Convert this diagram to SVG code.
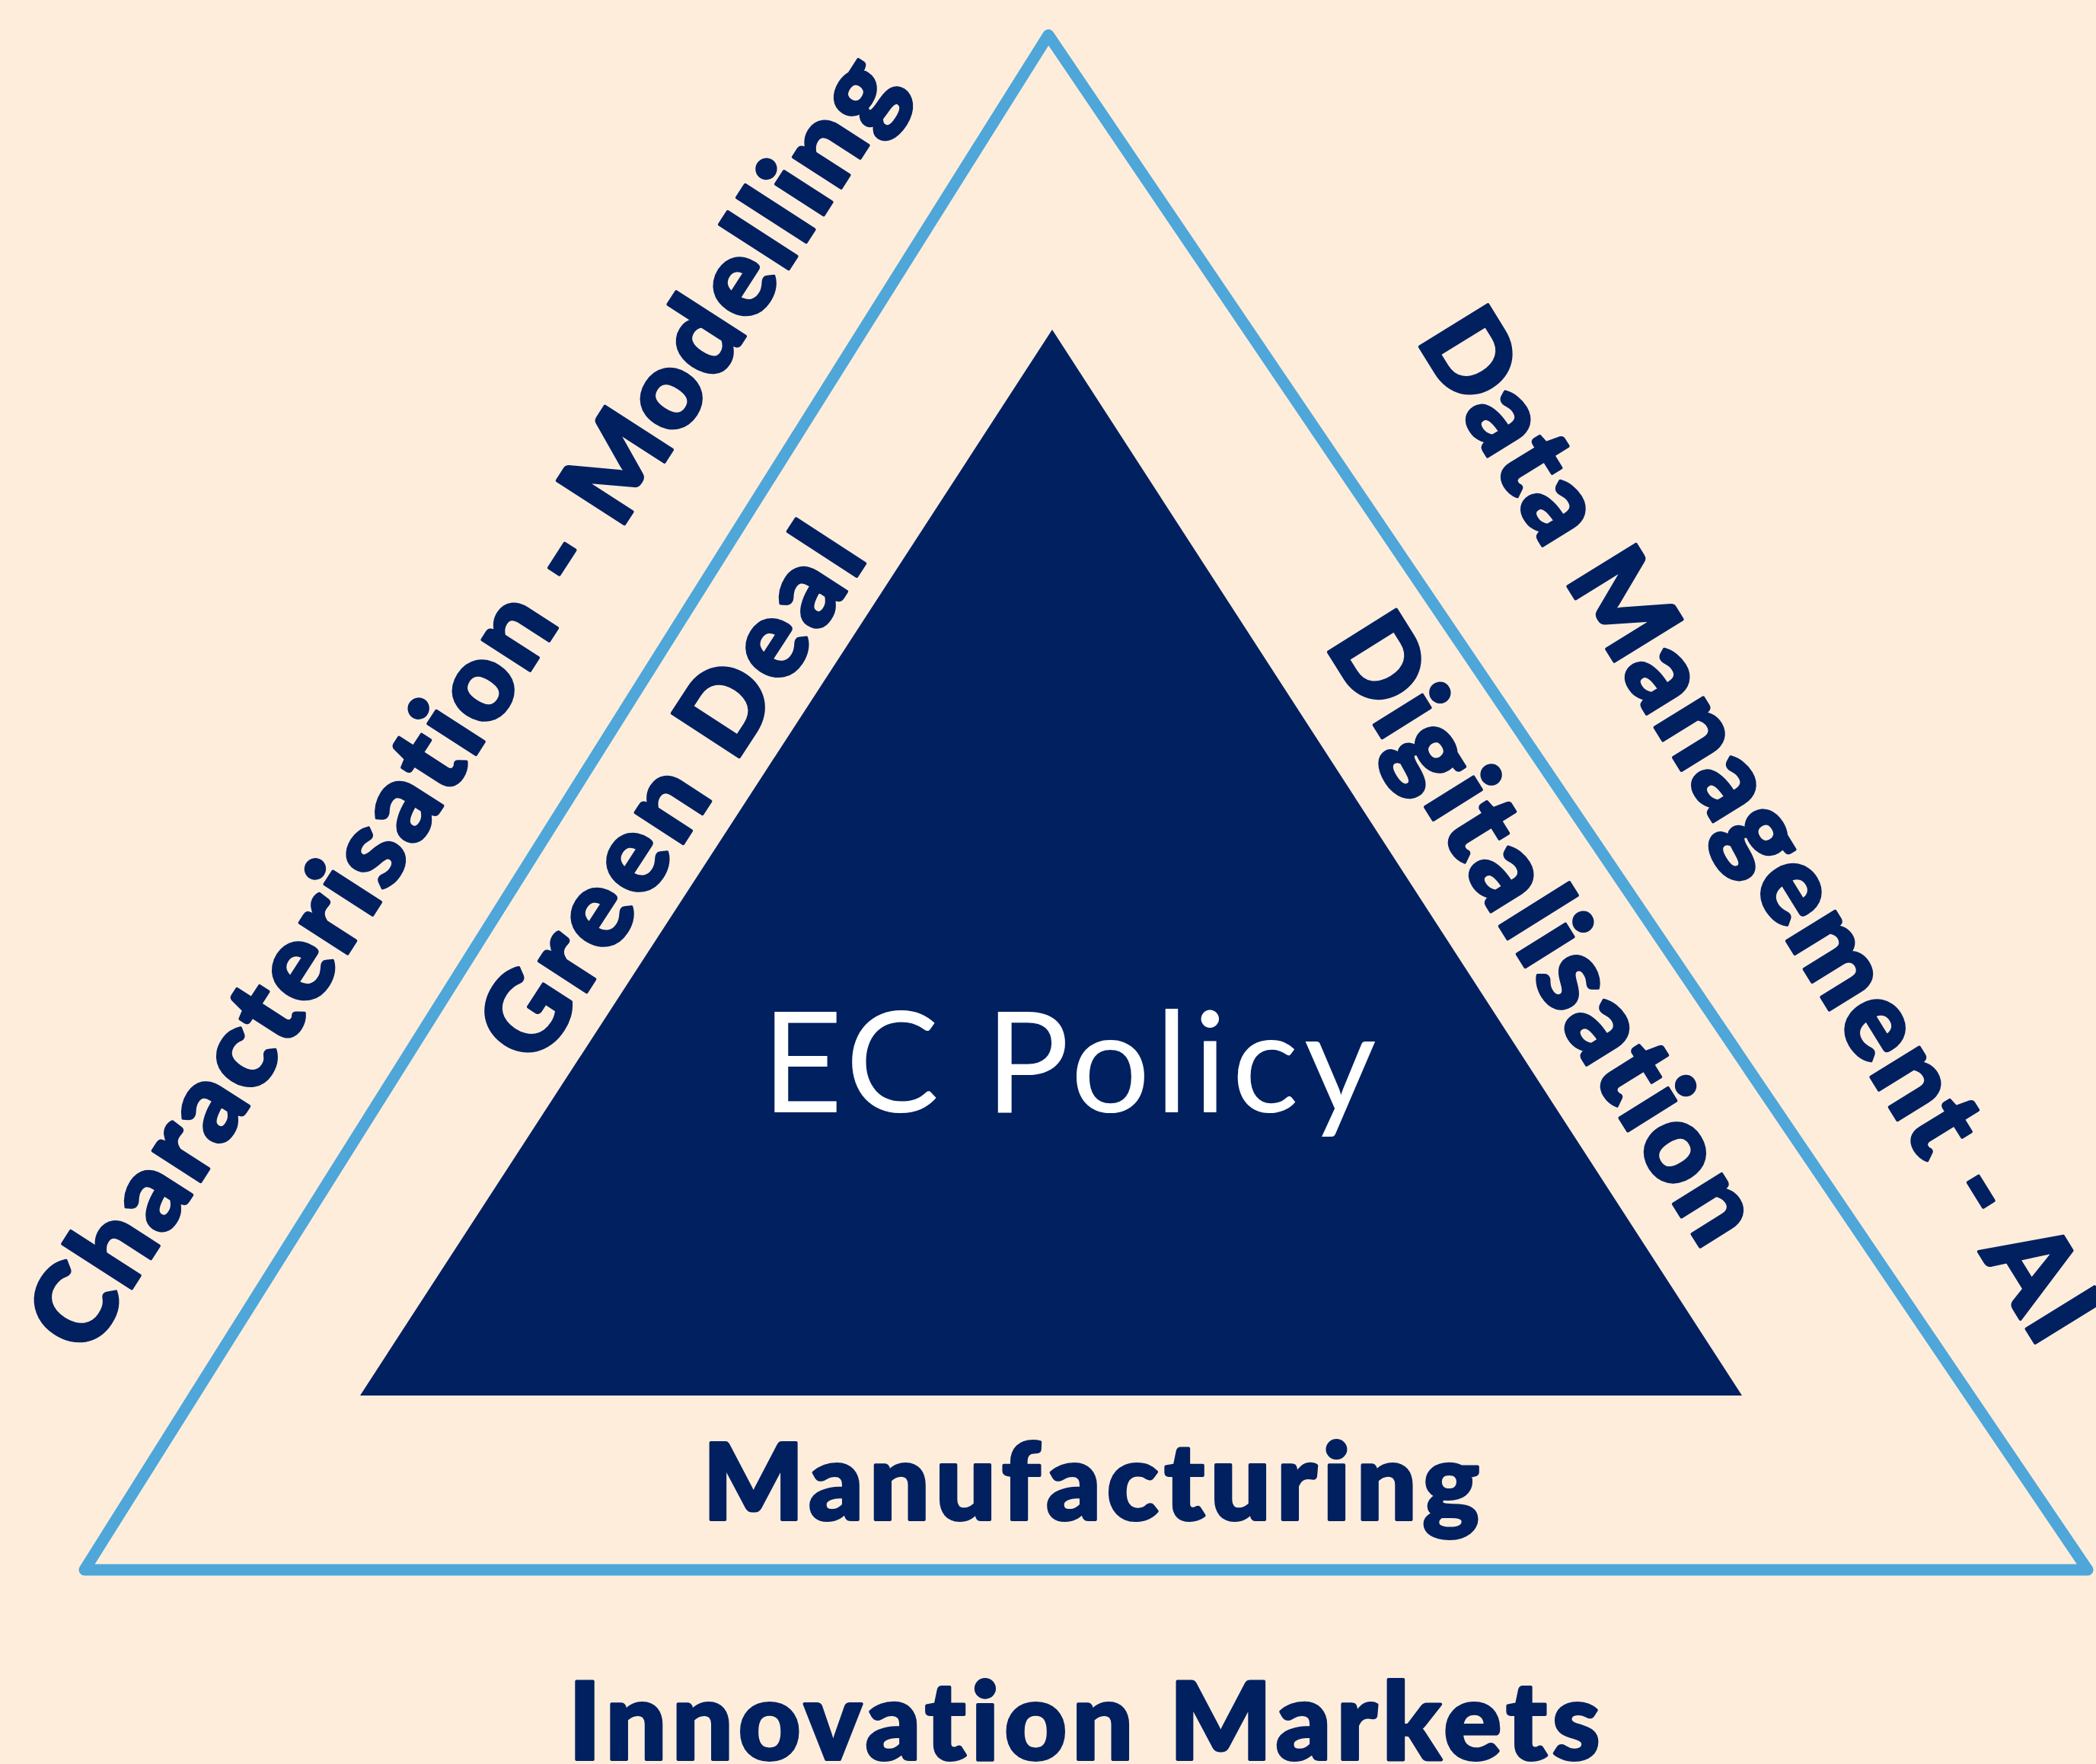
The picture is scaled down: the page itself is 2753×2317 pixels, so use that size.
<svg xmlns="http://www.w3.org/2000/svg" width="2753" height="2317" viewBox="0 0 2753 2317">
  <style>
    text { font-variant-ligatures: none; font-feature-settings: "liga" 0, "clig" 0; }
    .lbl { font-family: "Lato", "Liberation Sans", sans-serif; fill: #002060; font-weight: 900; stroke: #002060; stroke-width: 4; stroke-linejoin: round; }
    .side { font-size: 145px; }
    .base { font-size: 140px; }
    .center { font-family: "Lato", "Liberation Sans", sans-serif; fill: #ffffff; font-weight: 400; font-size: 184px; }
  </style>
  <rect id="background" x="0" y="0" width="2753" height="2317" fill="#FEEDDB"/>
  <g id="outer-triangle">
    <polygon points="1377,46 2742,2062 111,2062" fill="none" stroke="#4EA6D9" stroke-width="15" stroke-linejoin="round"/>
  </g>
  <g id="inner-triangle">
    <polygon points="1382,433 2288,1833 473,1833" fill="#002060"/>
    <text class="center" x="1404" y="1461" text-anchor="middle" textLength="807">EC Policy</text>
  </g>
  <g id="connectors"></g>
  <g id="label-characterisation">
    <text class="lbl side" transform="translate(114,1784) rotate(-57.2)" x="0" y="0" textLength="1985">Characterisation - Modelling</text>
  </g>
  <g id="label-green-deal">
    <text class="lbl side" transform="translate(705,1404) rotate(-57)" x="0" y="0" textLength="800">Green Deal</text>
  </g>
  <g id="label-data-management">
    <text class="lbl side" transform="translate(1859,446) rotate(58.3)" x="0" y="0" textLength="1560">Data Management - AI</text>
  </g>
  <g id="label-digitalisation">
    <text class="lbl side" transform="translate(1739,847) rotate(58)" x="0" y="0" textLength="940">Digitalisation</text>
  </g>
  <g id="label-manufacturing">
    <text class="lbl base" x="1433" y="1996" text-anchor="middle" textLength="1020">Manufacturing</text>
  </g>
  <g id="label-innovation-markets">
    <text class="lbl" x="1424" y="2311" text-anchor="middle" font-size="142" textLength="1355">Innovation Markets</text>
  </g>
</svg>
